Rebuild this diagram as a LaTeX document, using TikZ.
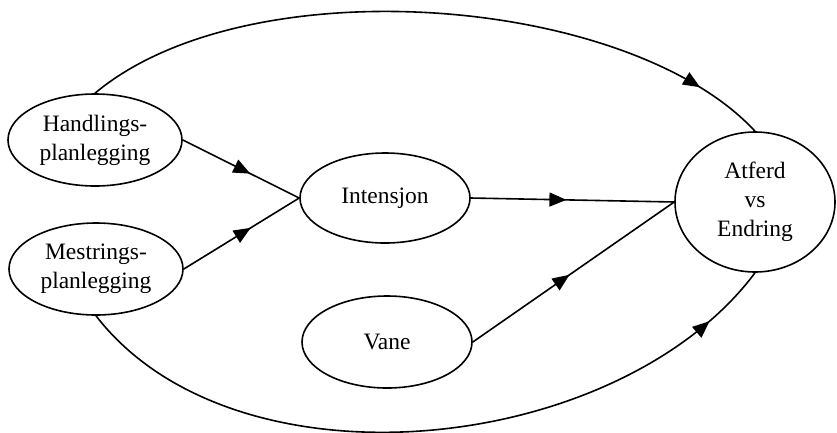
\documentclass[tikz,border=0pt]{standalone}
\usepackage{fontspec}
\setmainfont{Liberation Serif}
\usetikzlibrary{shapes.geometric,arrows.meta,decorations.markings}
\begin{document}
\begin{tikzpicture}[x=1pt,y=-1pt,line width=1.6pt,line join=round,
	font=\fontsize{23.5}{29}\selectfont,
	ell/.style={draw,ellipse,inner sep=0pt,align=center},
	midarr/.style={postaction={decorate},decoration={markings,
		mark=at position #1 with {\arrow{Triangle[length=17pt,width=14pt]}}}}]
		\useasboundingbox (0,0) rectangle (837,432);
		\node[ell,minimum width=174pt,minimum height=92pt] (hand) at (95,140) {Handlings-\\planlegging};
		\node[ell,minimum width=174pt,minimum height=92pt] (mest) at (96,269) {Mestrings-\\planlegging};
		\node[ell,minimum width=170pt,minimum height=90pt] (int) at (385,198) {Intensjon};
		\node[ell,minimum width=170pt,minimum height=92pt] (vane) at (387,342) {Vane};
		\node[ell,minimum width=160pt,minimum height=140pt] (atf) at (755,202) {Atferd\\vs\\Endring};
		% rette piler
		\draw[midarr=0.58] (hand.east) -- (int.west);
		\draw[midarr=0.58] (mest.east) -- (int.west);
		\draw[midarr=0.47] (int.east) -- (atf.west);
		\draw[midarr=0.48] (vane.east) -- (atf.west);
		% buer
		\draw[midarr=0.9] (hand.north) .. controls (248,-35) and (629,-5) .. (atf.north);
		\draw[midarr=0.91] (mest.south) .. controls (235,496) and (618,456) .. (atf.south);
\end{tikzpicture}
\end{document}
